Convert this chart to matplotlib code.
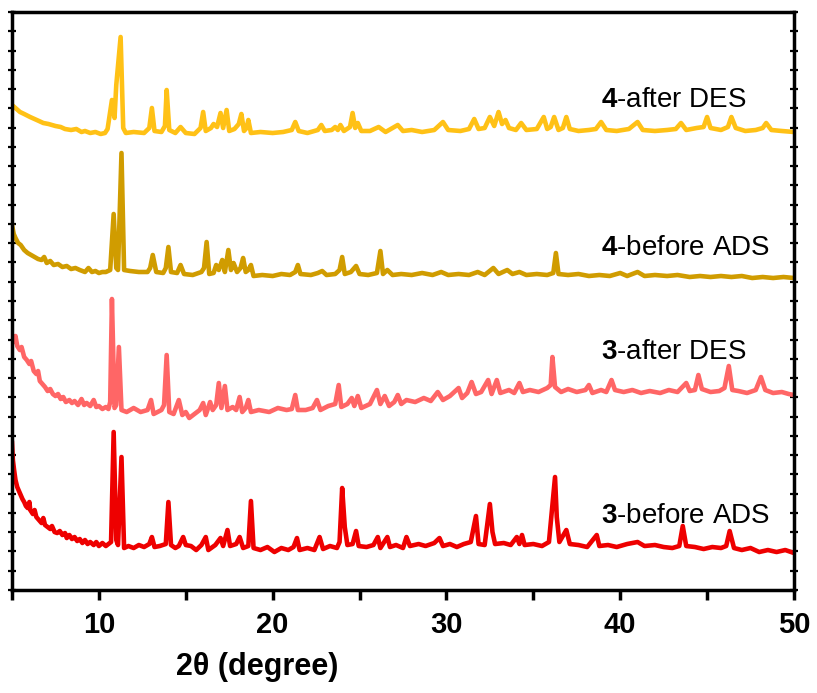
#!/usr/bin/env python3
"""Stacked PXRD patterns of compounds 3 and 4 before adsorption / after desorption."""

import matplotlib

matplotlib.use("Agg")
import matplotlib.pyplot as plt
import matplotlib.ticker as mticker

plt.rcParams["font.family"] = ["Liberation Sans", "DejaVu Sans"]
plt.rcParams["mathtext.fontset"] = "custom"
plt.rcParams["mathtext.rm"] = "Liberation Sans"
plt.rcParams["mathtext.bf"] = "Liberation Sans:bold"

# 4-after DES (stacked intensity, a.u.)
tt_4_des = [5.0, 5.2, 5.46, 5.7, 6.04, 6.3, 6.55, 6.8, 7.1, 7.5, 7.8, 8.05, 8.4, 8.7, 9.0, 9.2,
            9.5, 9.8, 10.1, 10.35, 10.5, 10.75, 10.9, 11.0, 11.25,
            11.4, 11.55, 12.0, 12.6, 12.9, 13.05, 13.2, 13.6, 13.8, 13.9, 14.05, 14.4, 14.7, 15.0,
            15.5, 15.85, 16.0, 16.15, 16.45, 16.6, 16.8, 17.0, 17.15, 17.35, 17.5, 17.8, 18.05,
            18.2, 18.35, 18.5, 18.6, 18.75, 19.3, 20.0, 20.6, 21.1, 21.3, 21.5, 22.0, 22.6, 22.8,
            23.0, 23.4, 23.6, 23.75, 23.9, 24.1, 24.45, 24.6, 24.75, 24.9, 25.1, 25.6, 26.1, 26.5,
            27.2, 27.5, 28.0, 28.6, 29.3, 29.8, 30.1, 30.8, 31.3, 31.6, 31.85, 32.2, 32.5, 32.75,
            33.0, 33.2, 33.4, 33.6, 34.0, 34.3, 34.6, 35.2, 35.6, 35.8, 36.0, 36.2, 36.45, 36.7,
            36.9, 37.1, 37.6, 38.2, 38.6, 38.9, 39.2, 39.8, 40.5, 41.0, 41.3, 42.0, 42.7, 43.2,
            43.5, 43.8, 44.4, 44.8, 45.0, 45.2, 45.8, 46.2, 46.4, 46.65, 47.2, 47.8, 48.2, 48.4,
            48.7, 49.3, 50.0]
int_4_des = [485, 482, 478, 476, 473, 471, 469, 467, 466, 464, 463, 461, 460, 461, 458, 459,
             457, 458, 456, 457, 461, 490, 472, 505, 553,
             462, 457, 458, 457, 462, 482, 459, 458, 464, 500, 460, 457, 463, 457,
             456, 462, 478, 459, 462, 466, 463, 477, 462, 480, 459, 461, 466,
             476, 459, 462, 470, 457, 458, 457, 458, 460, 468, 459, 457, 460, 465,
             459, 460, 463, 460, 465, 459, 463, 477, 462, 467, 459, 459, 463, 458,
             465, 459, 460, 458, 460, 468, 460, 459, 461, 471, 461, 462, 473, 464,
             478, 466, 470, 462, 460, 467, 460, 461, 473, 461, 463, 473, 460, 462,
             473, 461, 459, 460, 461, 468, 460, 459, 461, 468, 460, 459, 460, 461,
             467, 460, 462, 463, 473, 462, 460, 463, 473, 462, 459, 460, 462, 467,
             460, 459, 458]

# 4-before ADS
tt_4_ads = [5.0, 5.1, 5.2, 5.35, 5.5, 5.7, 5.9, 6.1, 6.3, 6.5, 6.7, 6.85, 7.0, 7.2, 7.4, 7.65,
            7.9, 8.15, 8.4, 8.65, 8.9, 9.2, 9.4, 9.6, 9.8, 10.0,
            10.2, 10.4, 10.65, 10.85, 11.0, 11.1, 11.3, 11.45, 11.8, 12.3, 12.8, 12.95, 13.1, 13.3,
            13.7, 13.85, 14.0, 14.15, 14.5, 14.7, 14.9, 15.4, 15.9, 16.05, 16.2, 16.35, 16.6,
            16.75, 16.9, 17.1, 17.25, 17.45, 17.6, 17.75, 17.95, 18.15, 18.3, 18.45, 18.6, 18.75,
            18.9, 19.4, 20.0, 20.5, 21.0, 21.3, 21.45, 21.6, 22.2, 22.6, 22.85, 23.1, 23.6, 23.85,
            24.0, 24.15, 24.5, 24.8, 25.0, 25.5, 26.0, 26.2, 26.35, 26.6, 26.9, 27.4, 28.0, 28.6,
            29.2, 29.7, 30.1, 30.7, 31.3, 31.8, 32.2, 32.7, 33.0, 33.5, 33.8, 34.2, 34.6, 35.2,
            35.8, 36.15, 36.3, 36.45, 37.0, 37.6, 38.2, 38.8, 39.4, 40.0, 40.4, 41.0, 41.4, 42.0,
            42.7, 43.3, 44.0, 44.6, 45.2, 45.8, 46.4, 47.0, 47.6, 48.2, 48.8, 49.4, 50.0]
int_4_ads = [365, 356, 352, 347, 345, 340, 337, 335, 333, 331, 330, 333, 327, 329, 325, 326,
             323, 324, 321, 322, 320, 318, 322, 318, 319, 317,
             318, 318, 320, 376, 322, 320, 437, 320, 319, 318, 318, 322, 335, 318,
             317, 322, 343, 318, 317, 325, 316, 315, 318, 322, 348, 316, 317,
             325, 320, 330, 318, 340, 320, 327, 318, 322, 332, 318, 320, 325,
             314, 315, 314, 316, 315, 318, 325, 316, 315, 317, 319, 315, 316, 320,
             333, 316, 318, 324, 316, 315, 317, 339, 316, 320, 315, 316, 315, 317,
             315, 318, 315, 316, 315, 318, 315, 322, 316, 320, 316, 318, 315, 316,
             315, 317, 337, 316, 315, 316, 314, 315, 314, 317, 314, 318, 314, 315,
             314, 315, 313, 314, 313, 314, 313, 314, 312, 313, 312, 313, 312]

# 3-after DES
tt_3_des = [5.0, 5.1, 5.2, 5.3, 5.45, 5.55, 5.7, 5.85, 6.0, 6.1, 6.25, 6.4, 6.5, 6.6, 6.75,
            6.9, 7.05, 7.2, 7.35, 7.5, 7.65, 7.8, 7.95, 8.1, 8.3, 8.45, 8.6, 8.8, 9.0, 9.15,
            9.3, 9.5, 9.7, 9.85, 10.0, 10.2, 10.4, 10.55, 10.65, 10.75, 10.9, 11.0, 11.15, 11.3,
            11.6, 12.0, 12.4, 12.8, 13.0, 13.15, 13.6, 13.75, 13.9, 14.05, 14.3, 14.6, 14.8,
            15.0, 15.2, 15.5, 15.8, 16.0, 16.15, 16.4, 16.55, 16.75, 16.9, 17.05, 17.25, 17.4,
            17.7, 17.9, 18.1, 18.25, 18.45, 18.6, 18.75, 19.2, 19.8, 20.3, 20.8, 21.1, 21.3,
            21.45, 21.9, 22.3, 22.55, 22.75, 23.2, 23.6, 23.8, 23.95, 24.3, 24.55, 24.7, 24.9,
            25.1, 25.6, 26.0, 26.2, 26.45, 26.7, 27.0, 27.2, 27.4, 27.7, 28.2, 28.7, 29.1, 29.5,
            29.8, 30.2, 30.7, 30.9, 31.2, 31.45, 31.7, 32.0, 32.4, 32.6, 32.9, 33.1, 33.6, 33.9,
            34.2, 34.4, 34.8, 35.3, 35.8, 36.0, 36.1, 36.25, 36.6, 37.0, 37.5, 38.0, 38.2, 38.4,
            38.9, 39.2, 39.5, 39.7, 40.2, 40.7, 41.2, 41.7, 42.3, 42.8, 43.3, 43.8, 44.0, 44.3,
            44.5, 44.7, 45.2, 45.7, 46.0, 46.25, 46.45, 46.8, 47.3, 47.8, 48.1, 48.35, 48.8,
            49.3, 49.7, 50.0]
int_3_des = [255, 248, 254, 244, 240, 243, 233, 230, 226, 229, 219, 216, 219, 209, 206,
             203, 199, 201, 196, 194, 196, 191, 193, 188, 190, 187, 189, 185, 191, 185,
             187, 184, 190, 183, 184, 181, 183, 181, 188, 291, 182, 185, 243, 180,
             178, 182, 178, 180, 190, 176, 180, 185, 235, 178, 176, 190, 175,
             178, 172, 176, 180, 187, 175, 188, 180, 185, 207, 182, 204, 180,
             183, 180, 193, 178, 182, 190, 178, 180, 178, 182, 180, 181, 195,
             180, 180, 182, 190, 180, 184, 186, 205, 183, 186, 192, 184, 194,
             182, 186, 200, 186, 194, 184, 188, 195, 186, 190, 188, 192, 189, 198,
             190, 194, 202, 192, 197, 208, 196, 198, 210, 196, 210, 197, 200, 197,
             207, 198, 200, 198, 202, 205, 233, 203, 198, 201, 198, 200, 205, 197,
             200, 198, 210, 200, 198, 200, 197, 199, 197, 200, 198, 207, 199, 200,
             215, 201, 198, 199, 202, 224, 200, 199, 197, 200, 213, 200, 197,
             198, 196, 195]

# 3-before ADS
tt_3_ads = [5.0, 5.05, 5.12, 5.2, 5.3, 5.4, 5.5, 5.6, 5.7, 5.8, 5.9, 6.0, 6.05, 6.2, 6.3,
            6.4, 6.55, 6.7, 6.8, 6.9, 7.05, 7.2, 7.3, 7.45, 7.6, 7.75, 7.9, 8.05, 8.15, 8.3,
            8.45, 8.6, 8.75, 8.9, 9.05, 9.2, 9.35, 9.5, 9.7, 9.85, 10.0, 10.2, 10.4, 10.55,
            10.7, 10.85, 11.0, 11.1, 11.3,
            11.45, 11.7, 12.0, 12.3, 12.6, 12.9, 13.05, 13.2, 13.5, 13.85, 14.0, 14.15, 14.4,
            14.6, 14.85, 15.0, 15.3, 15.6, 15.9, 16.15, 16.3, 16.7, 17.0, 17.15, 17.4, 17.55,
            17.9, 18.1, 18.3, 18.6, 18.75, 18.9, 19.3, 19.7, 20.1, 20.5, 20.9, 21.2, 21.4, 21.55,
            22.0, 22.4, 22.7, 22.9, 23.3, 23.7, 23.85, 24.0, 24.15, 24.3, 24.6, 24.8, 24.95,
            25.4, 25.8, 26.05, 26.2, 26.6, 26.75, 27.1, 27.5, 27.7, 27.9, 28.4, 28.8, 29.3,
            29.6, 29.8, 30.2, 30.6, 31.0, 31.4, 31.7, 31.85, 32.2, 32.5, 32.65, 32.8, 33.3,
            33.7, 34.05, 34.2, 34.35, 34.5, 35.0, 35.5, 35.9, 36.25, 36.35, 36.5, 36.9, 37.1,
            37.6, 38.1, 38.65, 38.8, 39.3, 39.8, 40.4, 41.0, 41.4, 42.0, 42.5, 43.0, 43.4, 43.6,
            43.8, 44.3, 44.8, 45.3, 45.8, 46.1, 46.3, 46.55, 47.0, 47.5, 48.0, 48.5, 49.0, 49.5,
            50.0]
int_3_ads = [147, 130, 120, 110, 103, 99, 95, 91, 88, 84, 82, 88, 80, 76, 80,
             73, 70, 67, 72, 65, 63, 61, 64, 58, 57, 59, 55, 57, 52, 55,
             51, 53, 49, 51, 47, 50, 46, 48, 45, 48, 44, 47, 44, 46,
             48, 158, 50, 45, 133,
             42, 44, 42, 45, 43, 46, 53, 43, 44, 46, 88, 45, 42,
             44, 53, 45, 44, 40, 45, 53, 40, 45, 52, 44, 60, 44,
             46, 53, 42, 44, 89, 42, 40, 43, 38, 42, 40, 43, 52, 40,
             42, 40, 53, 41, 44, 42, 48, 102, 63, 45, 46, 59, 44,
             43, 45, 53, 42, 53, 43, 45, 42, 53, 44, 46, 44, 47,
             52, 44, 46, 43, 46, 48, 74, 46, 45, 86, 58, 46, 47,
             45, 53, 46, 55, 45, 46, 44, 48, 113, 73, 48, 60, 46,
             45, 43, 55, 44, 45, 43, 46, 48, 44, 45, 43, 42, 44, 64,
             44, 43, 41, 43, 42, 44, 59, 42, 40, 42, 38, 40, 38, 40,
             37]

series = [
    (tt_3_ads, int_3_ads, "#ee0000", "$\\mathbf{3}$-before ADS", 74),
    (tt_3_des, int_3_des, "#ff6666", "$\\mathbf{3}$-after DES", 238),
    (tt_4_ads, int_4_ads, "#d09c00", "$\\mathbf{4}$-before ADS", 342),
    (tt_4_des, int_4_des, "#ffc116", "$\\mathbf{4}$-after DES", 490),
]


def main():
    fig = plt.figure(figsize=(8.17, 6.93), dpi=100)
    ax = fig.add_axes([0.0147, 0.1486, 0.9571, 0.8341])

    for tt, inten, color, label, label_y in series:
        ax.plot(tt, inten, color=color, linewidth=3.3, solid_joinstyle="round")
        ax.text(38.9, label_y, label, fontsize=20, ha="left", va="center", color="black")

    ax.set_xlim(5, 50)
    ax.set_ylim(0, 578)
    ax.xaxis.set_major_locator(mticker.MultipleLocator(10))
    ax.xaxis.set_minor_locator(mticker.FixedLocator([5, 15, 25, 35, 45]))
    ax.yaxis.set_major_locator(mticker.MultipleLocator(578 / 30))
    ax.yaxis.set_major_formatter(mticker.NullFormatter())

    for side in ["left", "right", "top", "bottom"]:
        ax.spines[side].set_linewidth(2.5)
    ax.tick_params(axis="x", which="both", direction="out", length=7, width=2.5,
                   top=False, labelsize=21, pad=8)
    ax.tick_params(axis="y", which="major", direction="inout", length=6, width=1.6,
                   left=True, right=True)
    for lbl in ax.get_xticklabels():
        lbl.set_fontweight("bold")

    ax.set_xlabel("2θ (degree)", fontsize=22, fontweight="bold")
    ax.xaxis.set_label_coords(0.313, -0.108)
    ax.xaxis.label.set_va("top")

    fig.savefig("out.png", dpi=100)
    plt.close(fig)


if __name__ == "__main__":
    main()
